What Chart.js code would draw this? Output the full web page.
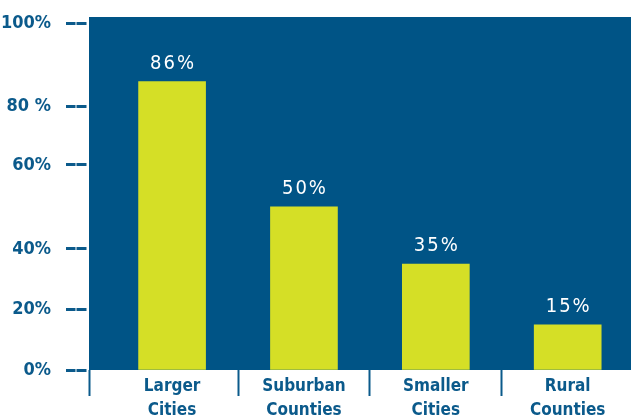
<!DOCTYPE html>
<html>
<head>
<meta charset="utf-8">
<script src="https://cdn.jsdelivr.net/npm/chart.js@4"></script>
<style>
  html, body { margin: 0; padding: 0; background: #fff; }
  #wrap { width: 631px; height: 418px; }
</style>
</head>
<body>
<div id="wrap"><canvas id="grafico"></canvas></div>
<script>
const categorias = ['Larger Cities', 'Suburban Counties', 'Smaller Cities', 'Rural Counties'];
const valores = [86, 50, 35, 15];
const yTicks = [0, 20, 40, 60, 80, 100];
const yTickLabels = ['0%', '20%', '40%', '60%', '80 %', '100%'];

const azul = '#005486';
const azulTexto = '#0b5a8b';
const verde = '#d5df26';
const fonte = "'Liberation Sans Narrow', 'DejaVu Sans Condensed', sans-serif";

// the printed axis is not evenly spaced: where each tick sits, as a share of the plot height
const posTicks = [0, 0.171, 0.343, 0.581, 0.746, 0.983];
const xMin = -0.63, xMax = 3.48;

function fracDe(v) {
  let i = 1;
  while (i < yTicks.length - 1 && v > yTicks[i]) i++;
  const a = yTicks[i - 1], b = yTicks[i];
  return posTicks[i - 1] + (v - a) / (b - a) * (posTicks[i] - posTicks[i - 1]);
}

function valorDe(f) {
  let i = 1;
  while (i < posTicks.length - 1 && f > posTicks[i]) i++;
  const a = posTicks[i - 1], b = posTicks[i];
  return yTicks[i - 1] + (f - a) / (b - a) * (yTicks[i] - yTicks[i - 1]);
}

class EscalaIrregular extends Chart.LinearScale {
  getPixelForValue(v) {
    return this.bottom - fracDe(v) * (this.bottom - this.top);
  }
  getValueForPixel(p) {
    return valorDe((this.bottom - p) / (this.bottom - this.top));
  }
}
EscalaIrregular.id = 'irregular';
EscalaIrregular.defaults = Chart.LinearScale.defaults;
Chart.register(EscalaIrregular);

const fundo = {
  id: 'fundo',
  beforeDraw(chart) {
    const { ctx, chartArea: a } = chart;
    ctx.letterSpacing = '0px';
    ctx.save();
    ctx.fillStyle = azul;
    ctx.fillRect(a.left, a.top, a.right - a.left, a.bottom - a.top);
    ctx.restore();
  },
  afterDatasetsDraw(chart) {
    const ctx = chart.ctx;
    ctx.letterSpacing = '1.5px'; // stays on for the x labels drawn next
    ctx.save();
    ctx.letterSpacing = '2px';
    ctx.fillStyle = '#ffffff';
    ctx.font = `20px ${fonte}`;
    ctx.textAlign = 'center';
    ctx.textBaseline = 'alphabetic';
    chart.getDatasetMeta(0).data.forEach((bar, i) => {
      ctx.fillText(valores[i] + '%', bar.x + 1, bar.y - 13);
    });
    ctx.restore();
  },
  afterDraw(chart) {
    chart.ctx.letterSpacing = '0px';
  }
};

const ctx = document.getElementById('grafico').getContext('2d');
new Chart(ctx, {
  type: 'bar',
  data: {
    datasets: [{
      data: valores.map((v, i) => ({ x: i, y: v })),
      backgroundColor: verde,
      borderWidth: 0,
      barThickness: 67
    }]
  },
  options: {
    responsive: true,
    maintainAspectRatio: false,
    animation: false,
    layout: { padding: { top: 17, right: 0, bottom: 0, left: 0 } },
    plugins: {
      legend: { display: false },
      tooltip: { enabled: false }
    },
    scales: {
      x: {
        type: 'linear',
        min: xMin,
        max: xMax,
        offset: false,
        z: 1,
        afterBuildTicks: s => {
          s.ticks = categorias.flatMap((c, i) => i === 0 ? [xMin, 0] : [i - 0.5, i]).map(v => ({ value: v }));
        },
        afterFit: s => { s.height = 48; s.paddingLeft = 0; s.paddingRight = 0; },
        grid: {
          offset: false,
          drawOnChartArea: false,
          tickLength: 26,
          tickWidth: 2,
          tickColor: c => (c.tick && Number.isInteger(c.tick.value)) ? 'rgba(0,0,0,0)' : azulTexto
        },
        border: { display: false },
        ticks: {
          autoSkip: false,
          maxRotation: 0,
          padding: -21.5,
          color: azulTexto,
          font: { family: fonte, size: 17, weight: 'bold', lineHeight: 1.41 },
          callback: v => Number.isInteger(v) ? categorias[v].split(' ') : ''
        }
      },
      y: {
        type: 'irregular',
        min: 0,
        max: 100,
        afterBuildTicks: s => { s.ticks = yTicks.map(v => ({ value: v })); },
        afterFit: s => { s.width = 89; s.paddingTop = 0; s.paddingBottom = 0; },
        grid: {
          drawOnChartArea: false,
          tickLength: 23,
          tickWidth: 3,
          tickColor: azulTexto,
          tickBorderDash: [9.5, 1, 10, 30]
        },
        border: { display: false },
        ticks: {
          autoSkip: false,
          padding: 15,
          color: azulTexto,
          font: { family: fonte, size: 18, weight: 'bold' },
          callback: (v, i) => yTickLabels[i]
        }
      }
    }
  },
  plugins: [fundo]
});
</script>
</body>
</html>
